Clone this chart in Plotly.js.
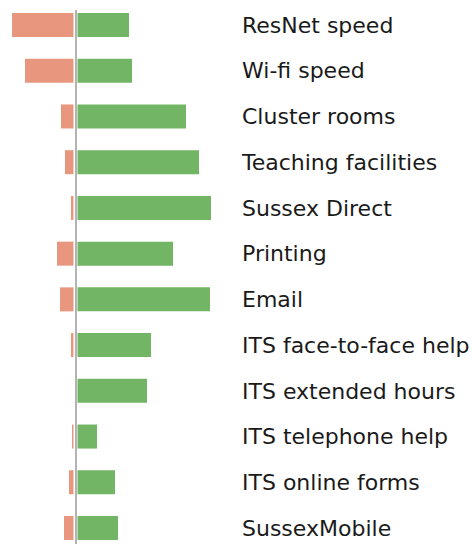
<!DOCTYPE html>
<html>
<head>
<meta charset="utf-8">
<script src="https://cdn.plot.ly/plotly-3.0.1.min.js"></script>
<style>html,body{margin:0;padding:0;background:#fff;}#chart{width:472px;height:544px;}</style>
</head>
<body>
<div id="chart"></div>
<script>
const categories = ["ResNet speed","Wi-fi speed","Cluster rooms","Teaching facilities","Sussex Direct","Printing","Email","ITS face-to-face help","ITS extended hours","ITS telephone help","ITS online forms","SussexMobile"];
const positive = [26.75, 28.25, 55.25, 61.75, 67.75, 48.75, 67.25, 37.75, 35.75, 10.75, 19.75, 21.25];
const negative = [31.75, 25.25, 7.25, 5.25, 2.25, 9.25, 7.75, 2.25, 0, 1.75, 3.25, 5.75];

const traces = [
  {type:'bar', orientation:'h', y:categories, x:negative.map(v=>-v), marker:{color:'#E9967F'}, hoverinfo:'none'},
  {type:'bar', orientation:'h', y:categories, x:positive, marker:{color:'#72B564'}, hoverinfo:'none'}
];
const W = 238;
const layout = {
  width:472, height:544,
  margin:{l:0, r:472-W, t:0, b:0},
  paper_bgcolor:'#fff', plot_bgcolor:'#fff',
  showlegend:false,
  barmode:'relative',
  bargap:0.475,
  font:{family:'DejaVu Sans, sans-serif', size:22, color:'#1a1a1a'},
  xaxis:{range:[-37.75, (W-75.5)/2], visible:false, fixedrange:true},
  yaxis:{type:'category', range:[11.35, -0.547], side:'right', ticks:'', showgrid:false, zeroline:false, showline:false,
         ticklabelstandoff:3,
         tickfont:{family:'DejaVu Sans, sans-serif', size:22, color:'#1a1a1a'}},
  shapes:[
    {type:'line', xref:'x', yref:'paper', x0:0, x1:0, y0:0, y1:(544-10)/544, line:{color:'#ffffff', width:4}},
    {type:'line', xref:'x', yref:'paper', x0:0.25, x1:0.25, y0:0, y1:(544-10)/544, line:{color:'#b3b3b3', width:2}}
  ]
};
Plotly.newPlot('chart', traces, layout, {displayModeBar:false, staticPlot:true});
</script>
</body>
</html>
